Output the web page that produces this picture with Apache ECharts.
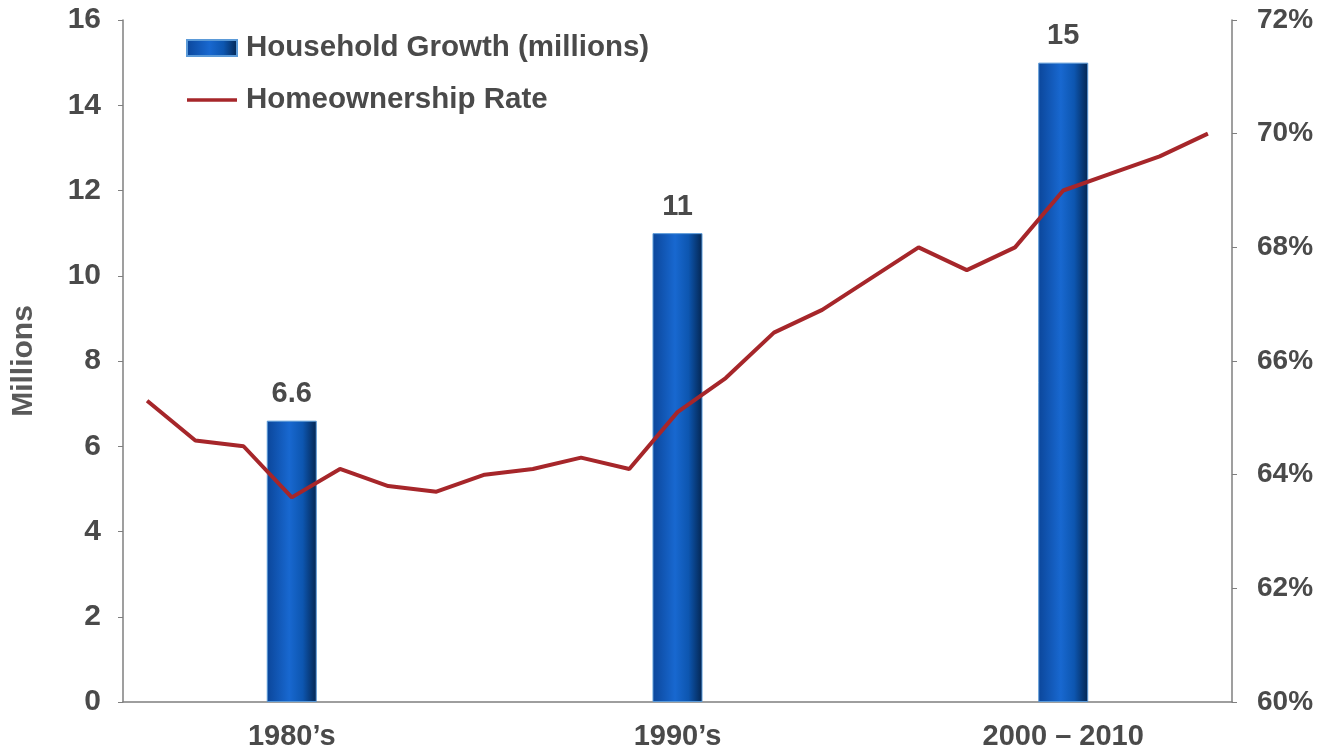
<!DOCTYPE html>
<html>
<head>
<meta charset="utf-8">
<script src="https://cdn.jsdelivr.net/npm/echarts@6/dist/echarts.min.js"></script>
<style>
html,body{margin:0;padding:0;background:#fff;}
#chart{width:1332px;height:753px;}
</style>
</head>
<body>
<div id="chart"></div>
<script>
// 23 evenly spaced points along the time axis
const categories = ['p0','p1','p2','p3','p4','p5','p6','p7','p8','p9','p10','p11','p12','p13','p14','p15','p16','p17','p18','p19','p20','p21','p22'];
const tickLabels = ['','','','1980\u2019s','','','','','','','','1990\u2019s','','','','','','','','2000 \u2013 2010','','',''];
const householdGrowth = ['-','-','-',6.6,'-','-','-','-','-','-','-',11,'-','-','-','-','-','-','-',15,'-','-','-'];
const homeownershipRate = [65.3,64.6,64.5,63.6,64.1,63.8,63.7,64.0,64.1,64.3,64.1,65.1,65.7,66.5,66.9,67.45,68.0,67.6,68.0,69.0,69.3,69.6,70.0];
const leftTicks = {min:0, max:16, interval:2};
const rightTicks = {min:60, max:72, interval:2};

const FONT = "'Liberation Sans', Arial, sans-serif";
const TXT = '#4a4a4a';
const AX = '#7f7f7f';

const chart = echarts.init(document.getElementById('chart'));
chart.setOption({
  animation:false,
  backgroundColor:'#ffffff',
  textStyle:{fontFamily:FONT},
  grid:{left:123, right:100, top:20, bottom:51},
  legend:{
    orient:'vertical', left:181, top:28, itemGap:22,
    itemWidth:50, itemHeight:16,
    textStyle:{fontFamily:FONT, fontSize:29.5, fontWeight:'bold', color:TXT, padding:[0,0,0,4]},
    data:[
      {name:'Household Growth (millions)', icon:'rect'},
      {name:'Homeownership Rate', icon:'path://M0,0 L54,0 L54,4 L0,4 Z'}
    ]
  },
  xAxis:{
    type:'category', data:categories, boundaryGap:true,
    axisLine:{lineStyle:{color:AX, width:1.5}},
    axisTick:{show:false},
    axisLabel:{interval:0, margin:20, fontFamily:FONT, fontSize:29, fontWeight:'bold', color:TXT,
      formatter:(v, i)=>tickLabels[i]}
  },
  yAxis:[{
    type:'value', min:leftTicks.min, max:leftTicks.max, interval:leftTicks.interval,
    name:'Millions', nameLocation:'middle', nameRotate:90, nameGap:84,
    nameTextStyle:{fontFamily:FONT, fontSize:30, fontWeight:'bold', color:'#595959'},
    axisLine:{show:true, lineStyle:{color:AX, width:1.5}},
    axisTick:{show:true, length:5, lineStyle:{color:AX}},
    splitLine:{show:false},
    axisLabel:{margin:22, fontFamily:FONT, fontSize:30, fontWeight:'bold', color:TXT}
  },{
    type:'value', min:rightTicks.min, max:rightTicks.max, interval:rightTicks.interval,
    axisLine:{show:true, lineStyle:{color:AX, width:1.5}},
    axisTick:{show:true, length:5, lineStyle:{color:AX}},
    splitLine:{show:false},
    axisLabel:{margin:25, fontFamily:FONT, fontSize:28, fontWeight:'bold', color:TXT, formatter:'{value}%'}
  }],
  series:[{
    name:'Household Growth (millions)', type:'bar', yAxisIndex:0,
    data:householdGrowth, barWidth:50,
    itemStyle:{
      color:new echarts.graphic.LinearGradient(0,0,1,0,[
        {offset:0, color:'#0b469a'},
        {offset:0.45, color:'#1868d0'},
        {offset:0.72, color:'#0d56b0'},
        {offset:1, color:'#042550'}
      ]),
      borderColor:'#5b9ad8', borderWidth:1
    },
    label:{show:true, position:'top', distance:12, fontFamily:FONT, fontSize:29, fontWeight:'bold', color:TXT}
  },{
    name:'Homeownership Rate', type:'line', yAxisIndex:1,
    data:homeownershipRate, symbol:'none', showSymbol:false, smooth:false,
    lineStyle:{color:'#a6262a', width:4},
    itemStyle:{color:'#a6262a'}
  }]
});
</script>
</body>
</html>
